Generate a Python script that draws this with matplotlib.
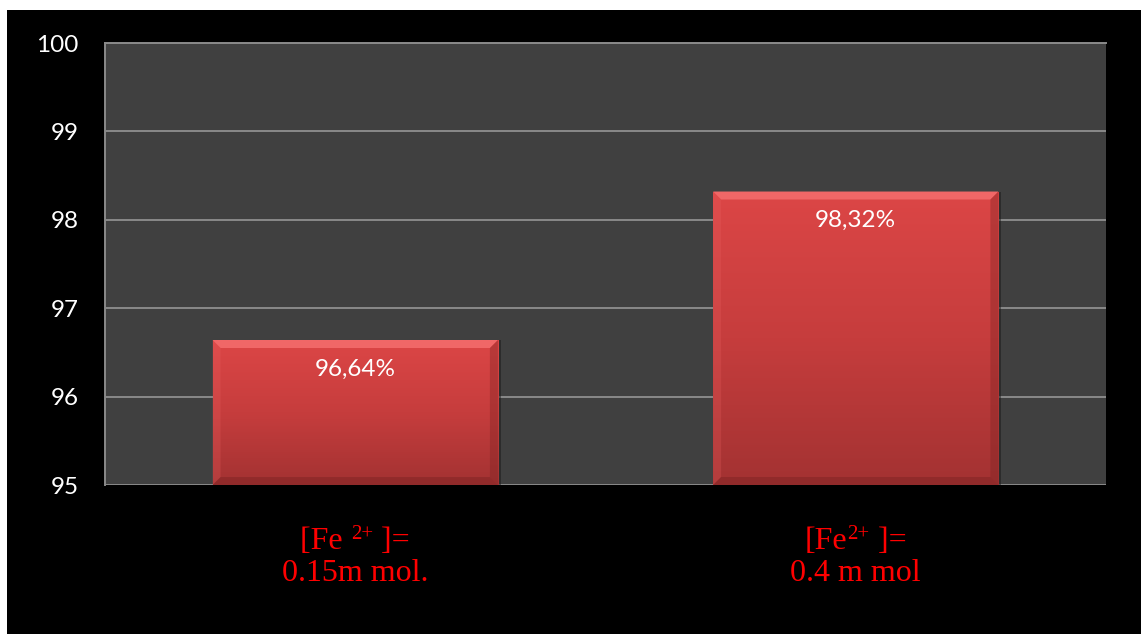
import matplotlib
matplotlib.use("Agg")
import matplotlib.pyplot as plt
import numpy as np
from matplotlib.patches import Rectangle, Polygon
from matplotlib.colors import LinearSegmentedColormap

# Data
cat_line1 = [("[Fe ", "2+", " ]="), ("[Fe", "2+", " ]=")]
cat_line2 = ["0.15m mol.", "0.4 m mol"]
values = [96.64, 98.32]
value_labels = ["96,64%", "98,32%"]
y_ticks = [95, 96, 97, 98, 99, 100]

W, H = 1144, 634
fig = plt.figure(figsize=(W / 100, H / 100), dpi=100)
fig.patch.set_facecolor("white")

# black slide background
bg = fig.add_axes([7 / W, 0, (1141 - 7) / W, (634 - 10) / H], zorder=-5)
bg.set_facecolor("black")
bg.set_xticks([]); bg.set_yticks([])
for s in bg.spines.values():
    s.set_visible(False)

ax_l, ax_r, ax_t, ax_b = 105, 1106, 43, 485
ax = fig.add_axes([ax_l / W, (H - ax_b) / H, (ax_r - ax_l) / W, (ax_b - ax_t) / H])
ax.set_facecolor("#404040")
ax.set_xlim(-0.5, 1.5)
ax.set_ylim(95, 100)
ax.set_yticks(y_ticks)
ax.set_yticklabels([str(t) for t in y_ticks], color="white", fontsize=17.5, family="Lato")
ax.tick_params(axis="y", length=0, pad=19)
ax.set_xticks([])
ax.grid(axis="y", color="#8a8a8a", linewidth=1.4)
ax.set_axisbelow(True)
for s in ["right", "bottom"]:
    ax.spines[s].set_visible(False)
for s in ["top", "left"]:
    ax.spines[s].set_color("#8a8a8a")
    ax.spines[s].set_linewidth(1.4)

# pixel-to-data scales
px_x = 2.0 / (ax_r - ax_l)
px_y = 5.0 / (ax_b - ax_t)

cmap = LinearSegmentedColormap.from_list("bar", ["#a33232", "#c63d3d", "#dc4646"])
bar_w = 0.57
bev = 8
for i, (v, lab) in enumerate(zip(values, value_labels)):
    x0, x1 = i - bar_w / 2, i + bar_w / 2
    y0, y1 = 95, v
    # drop shadow
    ax.add_patch(Rectangle((x0 + 3 * px_x, y0), bar_w, v - 95,
                           facecolor="#1a1a1a", edgecolor="none", alpha=0.5, zorder=2))
    grad = np.linspace(0, 1, 256).reshape(-1, 1)
    im = ax.imshow(grad, extent=(x0, x1, y0, y1), origin="lower", cmap=cmap,
                   aspect="auto", zorder=3)
    im.set_clip_path(Rectangle((x0, y0), bar_w, v - 95, transform=ax.transData))
    bx, by = bev * px_x, bev * px_y
    # bevel facets
    facets = [
        ([(x0, y1), (x1, y1), (x1 - bx, y1 - by), (x0 + bx, y1 - by)], "#f26a6a", 0.95),
        ([(x0, y1), (x0 + bx, y1 - by), (x0 + bx, y0 + by), (x0, y0)], "#e86060", 0.25),
        ([(x1, y1), (x1 - bx, y1 - by), (x1 - bx, y0 + by), (x1, y0)], "#7a2222", 0.35),
        ([(x0, y0), (x0 + bx, y0 + by), (x1 - bx, y0 + by), (x1, y0)], "#7a2222", 0.45),
    ]
    for pts, c, a in facets:
        ax.add_patch(Polygon(pts, closed=True, facecolor=c, edgecolor="none",
                             alpha=a, zorder=4))
    ax.text(i, v - 29 * px_y, lab, ha="center", va="center", color="white",
            fontsize=17.5, family="Lato", zorder=5)

# category labels below the plot
serif = "Liberation Serif"
main_size, sup_size = 23, 15
renderer = fig.canvas.get_renderer()


def text_width(s, size):
    t = fig.text(0, 0, s, fontsize=size, family=serif)
    w = t.get_window_extent(renderer).width
    t.remove()
    return w


for i, ((pre, sup, post), l2) in enumerate(zip(cat_line1, cat_line2)):
    xc = ax_l + (i + 0.5) * (ax_r - ax_l) / 2
    parts = [(pre, main_size, 0), (sup, sup_size, 10), (post, main_size, 0)]
    widths = [text_width(s, sz) for s, sz, _ in parts]
    x = xc - sum(widths) / 2
    for (s, sz, dy), w in zip(parts, widths):
        fig.text(x / W, (H - 549 + dy) / H, s, ha="left", va="baseline",
                 color="red", fontsize=sz, family=serif)
        x += w
    fig.text(xc / W, (H - 581) / H, l2, ha="center", va="baseline", color="red",
             fontsize=main_size, family=serif)

fig.savefig("out.png", dpi=100, facecolor=fig.get_facecolor())
